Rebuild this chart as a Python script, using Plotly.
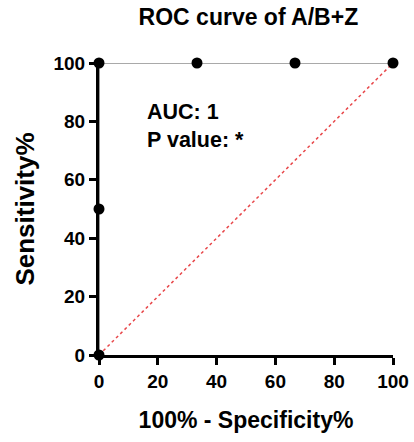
import plotly.graph_objects as go

# ROC points (100% - specificity, sensitivity)
fpr = [0, 0, 0, 33.33, 66.67, 100]
tpr = [0, 50, 100, 100, 100, 100]
ref_x = [0, 100]
ref_y = [0, 100]
ticks = [0, 20, 40, 60, 80, 100]

FONT = "Liberation Sans, Arial"
fig = go.Figure()

fig.add_trace(go.Scatter(
    x=ref_x, y=ref_y, mode="lines",
    line=dict(color="#e8474a", width=1.5, dash="dot"),
    hoverinfo="skip", cliponaxis=False,
))
fig.add_trace(go.Scatter(
    x=fpr, y=tpr, mode="lines+markers",
    line=dict(color="#555555", width=1.2),
    marker=dict(color="black", size=11),
    cliponaxis=False,
))

fig.add_annotation(
    x=0.157, y=0.88, xref="paper", yref="paper",
    xanchor="left", yanchor="top", align="left", showarrow=False,
    text="<b>AUC: 1<br>P value: *</b>",
    font=dict(family=FONT, size=21.5, color="black"),
)

axis_common = dict(
    showgrid=False, zeroline=False, showline=True,
    linecolor="black", linewidth=3,
    ticks="outside", ticklen=7, tickwidth=2.5, tickcolor="black",
    tickvals=ticks, range=[0, 100], automargin=False,
    tickfont=dict(family=FONT, size=19, color="black", weight="bold"),
)

fig.update_layout(
    width=414, height=442,
    margin=dict(l=99, r=21, t=63, b=87, autoexpand=False),
    paper_bgcolor="white", plot_bgcolor="white",
    showlegend=False,
    title=dict(
        text="<b>ROC curve of A/B+Z</b>", x=0.6, xanchor="center",
        y=0.962, yanchor="middle",
        font=dict(family=FONT, size=23, color="black"),
    ),
    xaxis=dict(
        **axis_common,
        title=dict(text="<b>100% - Specificity%</b>", standoff=22,
                   font=dict(family=FONT, size=23, color="black")),
    ),
    yaxis=dict(
        **axis_common,
        title=dict(text="<b>Sensitivity%</b>", standoff=12,
                   font=dict(family=FONT, size=26, color="black")),
    ),
)

fig.write_html("out.html")
